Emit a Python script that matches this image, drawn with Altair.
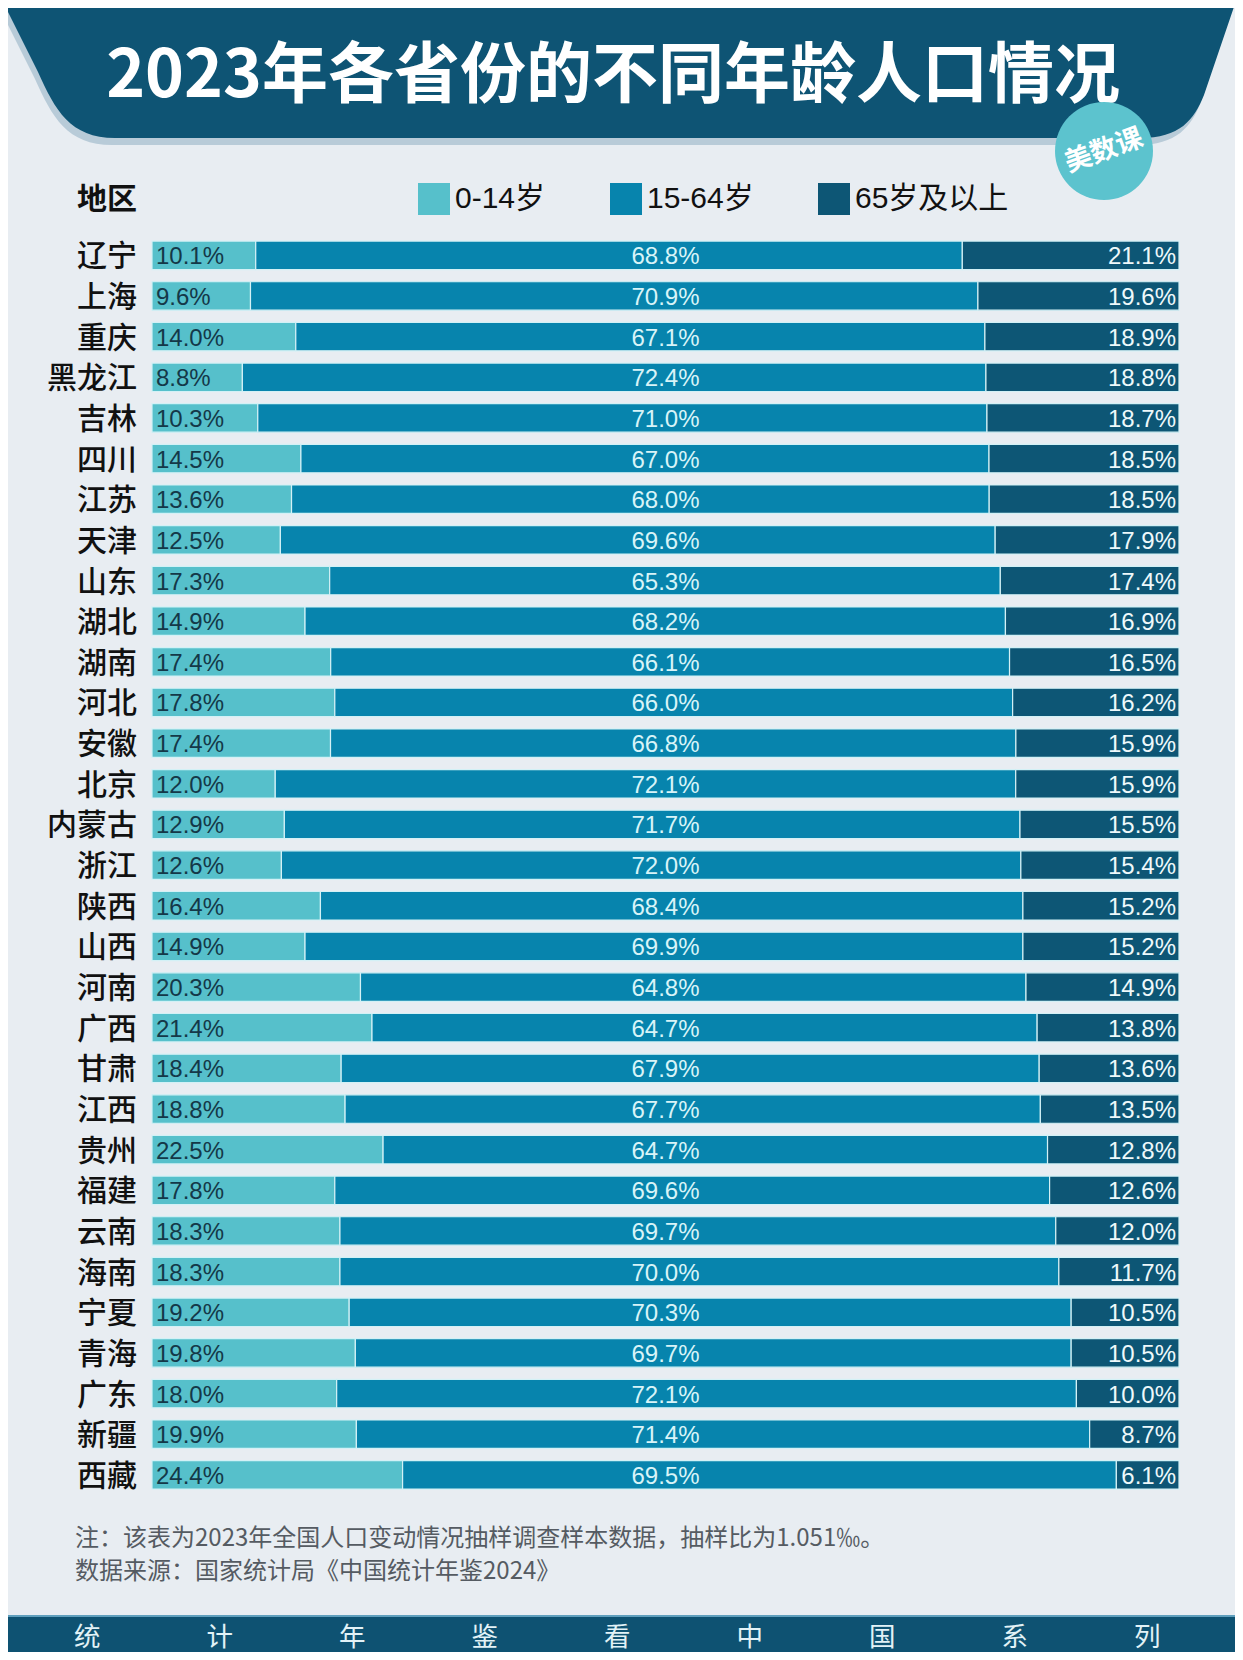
import altair as alt
import pandas as pd

# ---------------- data ----------------
title_text = "2023年各省份的不同年龄人口情况"
provinces = ["辽宁", "上海", "重庆", "黑龙江", "吉林", "四川", "江苏", "天津", "山东", "湖北",
             "湖南", "河北", "安徽", "北京", "内蒙古", "浙江", "陕西", "山西", "河南", "广西",
             "甘肃", "江西", "贵州", "福建", "云南", "海南", "宁夏", "青海", "广东", "新疆", "西藏"]
age_groups = ["0-14岁", "15-64岁", "65岁及以上"]
young = [10.1, 9.6, 14.0, 8.8, 10.3, 14.5, 13.6, 12.5, 17.3, 14.9,
         17.4, 17.8, 17.4, 12.0, 12.9, 12.6, 16.4, 14.9, 20.3, 21.4,
         18.4, 18.8, 22.5, 17.8, 18.3, 18.3, 19.2, 19.8, 18.0, 19.9, 24.4]
working = [68.8, 70.9, 67.1, 72.4, 71.0, 67.0, 68.0, 69.6, 65.3, 68.2,
           66.1, 66.0, 66.8, 72.1, 71.7, 72.0, 68.4, 69.9, 64.8, 64.7,
           67.9, 67.7, 64.7, 69.6, 69.7, 70.0, 70.3, 69.7, 72.1, 71.4, 69.5]
elderly = [21.1, 19.6, 18.9, 18.8, 18.7, 18.5, 18.5, 17.9, 17.4, 16.9,
           16.5, 16.2, 15.9, 15.9, 15.5, 15.4, 15.2, 15.2, 14.9, 13.8,
           13.6, 13.5, 12.8, 12.6, 12.0, 11.7, 10.5, 10.5, 10.0, 8.7, 6.1]
header_label = "地区"
note_lines = ["注：该表为2023年全国人口变动情况抽样调查样本数据，抽样比为1.051‰。",
              "数据来源：国家统计局《中国统计年鉴2024》"]
footer_chars = ["统", "计", "年", "鉴", "看", "中", "国", "系", "列"]
badge_text = "美数课"

# ---------------- style ----------------
colors = ["#56c0cb", "#0784ad", "#0d5675"]
BG = "#e8edf2"
DARK = "#0e5474"
W, H = 1227, 1644
X0, X1 = 144, 1171
Y0, Y1 = 227.0, 1487.2
NUM_FONT = "Liberation Sans, Noto Sans CJK SC"
CJK_FONT = "Noto Sans CJK SC"

rows = []
for i, p in enumerate(provinces):
    for k, vals in enumerate([young, working, elderly]):
        rows.append({"province": p, "group": age_groups[k], "value": vals[i], "ord": k})
long_df = pd.DataFrame(rows)
wide_df = pd.DataFrame({
    "province": provinces,
    "young_lbl": [f"{v:.1f}%" for v in young],
    "work_lbl": [f"{v:.1f}%" for v in working],
    "old_lbl": [f"{v:.1f}%" for v in elderly],
})
one = pd.DataFrame({"k": [0]})

y_enc = alt.Y("province:N", sort=provinces, axis=None,
              scale=alt.Scale(range=[Y0, Y1], paddingInner=0.3, paddingOuter=0.15))

bars = alt.Chart(long_df).mark_bar(stroke="#d3f1f6", strokeWidth=1.2).encode(
    x=alt.X("value:Q", stack="normalize", axis=None,
            scale=alt.Scale(domain=[0, 1], range=[X0, X1], nice=False, zero=False)),
    y=y_enc,
    color=alt.Color("group:N", sort=age_groups,
                    scale=alt.Scale(domain=age_groups, range=colors),
                    legend=alt.Legend(title=None, orient="none", legendX=410, legendY=175,
                                      direction="horizontal", symbolType="square",
                                      symbolSize=1024, symbolStrokeWidth=0, symbolOpacity=1,
                                      labelFont=NUM_FONT, labelFontSize=30,
                                      labelColor="#111111", labelOffset=5,
                                      columnPadding=64, padding=0)),
    order=alt.Order("ord:Q"),
)

prov_text = alt.Chart(wide_df).mark_text(
    align="right", baseline="middle", font=CJK_FONT, fontSize=30, fontWeight=500,
    dy=2, color="#111111").encode(y=y_enc, x=alt.value(129), text="province:N")

young_text = alt.Chart(wide_df).mark_text(
    align="left", baseline="middle", font=NUM_FONT, fontSize=24, dy=2,
    color="#143848").encode(y=y_enc, x=alt.value(148), text="young_lbl:N")

work_text = alt.Chart(wide_df).mark_text(
    align="center", baseline="middle", font=NUM_FONT, fontSize=24, dy=2,
    color="#d8f4f8").encode(y=y_enc, x=alt.value((X0 + X1) / 2), text="work_lbl:N")

old_text = alt.Chart(wide_df).mark_text(
    align="right", baseline="middle", font=NUM_FONT, fontSize=24, dy=2,
    color="#eef9fb").encode(y=y_enc, x=alt.value(X1 - 3), text="old_lbl:N")

# ---------------- decorations ----------------
band_path = ("M -7 -10 L 1229 -10 L 1196 87 C 1186 112 1172 130 1132 130 "
             "L 107 130 C 62 130 47 102 30 64 Z")
band_shadow = alt.Chart(one).mark_point(
    shape=band_path, size=4, filled=True, fill="#b8cbd8", opacity=1, strokeWidth=0
).encode(x=alt.value(-3), y=alt.value(7))
band = alt.Chart(one).mark_point(
    shape=band_path, size=4, filled=True, fill=DARK, opacity=1, strokeWidth=0
).encode(x=alt.value(0), y=alt.value(0))
title = alt.Chart(one).mark_text(
    text=title_text, font=CJK_FONT, fontSize=66, fontWeight="bold", color="#ffffff",
    align="center", baseline="middle").encode(x=alt.value(605), y=alt.value(69))

badge = alt.Chart(one).mark_point(
    shape="circle", size=9604, filled=True, fill="#5cc3ce", opacity=1, strokeWidth=0
).encode(x=alt.value(1096), y=alt.value(143))
badge_lbl = alt.Chart(one).mark_text(
    text=badge_text, font=CJK_FONT, fontSize=27, fontWeight="bold", color="#ffffff",
    angle=340, align="center", baseline="middle").encode(x=alt.value(1096), y=alt.value(143))

header = alt.Chart(one).mark_text(
    text=header_label, font=CJK_FONT, fontSize=30, fontWeight="bold", color="#111111",
    align="right", baseline="middle").encode(x=alt.value(129), y=alt.value(192))

note1 = alt.Chart(one).mark_text(
    text=note_lines[0], font=CJK_FONT, fontSize=24, color="#555b62",
    align="left", baseline="middle").encode(x=alt.value(67), y=alt.value(1531))
note2 = alt.Chart(one).mark_text(
    text=note_lines[1], font=CJK_FONT, fontSize=24, color="#555b62",
    align="left", baseline="middle").encode(x=alt.value(67), y=alt.value(1564))

footer = alt.Chart(one).mark_rect(color="#0e5272").encode(
    x=alt.value(-5), x2=alt.value(W + 5), y=alt.value(1608), y2=alt.value(H + 5))
footer_line = alt.Chart(one).mark_rect(color="#5f9fbd").encode(
    x=alt.value(-5), x2=alt.value(W + 5), y=alt.value(1607), y2=alt.value(1609))
footer_text = alt.Chart(one).mark_text(
    text=("\u3000" * 4).join(footer_chars), font=CJK_FONT, fontSize=26.5, color="#e2f2f7",
    align="left", baseline="middle").encode(x=alt.value(66), y=alt.value(1629.5))

chart = alt.layer(
    band_shadow, band, title, badge, badge_lbl, header,
    bars, prov_text, young_text, work_text, old_text,
    note1, note2, footer, footer_line, footer_text,
).properties(
    width=W, height=H, padding=0,
    autosize=alt.AutoSizeParams(type="none"),
).configure(background=BG).configure_view(stroke=None)

chart.save("out.html", embed_options={"renderer": "svg", "actions": False})
